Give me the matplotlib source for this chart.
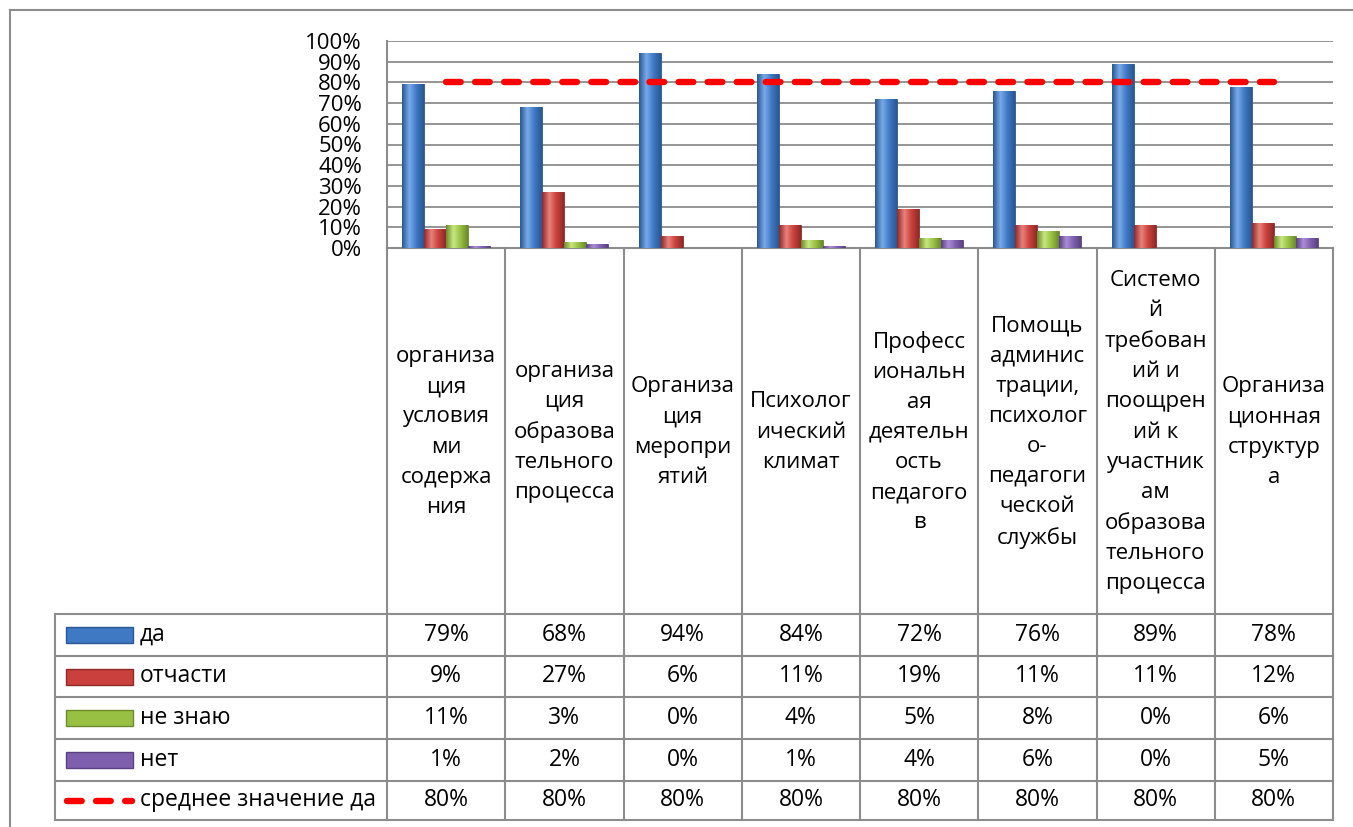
import numpy as np
import matplotlib.pyplot as plt
from matplotlib.colors import LinearSegmentedColormap
from matplotlib.patches import Rectangle
from matplotlib.transforms import blended_transform_factory
from matplotlib.ticker import PercentFormatter

plt.rcParams['font.family'] = ['Open Sans', 'DejaVu Sans']

# Data
categories = [
    "организа\nция\nусловия\nми\nсодержа\nния",
    "организа\nция\nобразова\nтельного\nпроцесса",
    "Организа\nция\nмеропри\nятий",
    "Психолог\nический\nклимат",
    "Професс\nиональн\nая\nдеятельн\nость\nпедагого\nв",
    "Помощь\nадминис\nтрации,\nпсихолог\nо-\nпедагоги\nческой\nслужбы",
    "Системо\nй\nтребован\nий и\nпоощрен\nий к\nучастник\nам\nобразова\nтельного\nпроцесса",
    "Организа\nционная\nструктур\nа",
]
da = [79, 68, 94, 84, 72, 76, 89, 78]
otchasti = [9, 27, 6, 11, 19, 11, 11, 12]
ne_znayu = [11, 3, 0, 4, 5, 8, 0, 6]
net = [1, 2, 0, 1, 4, 6, 0, 5]
avg_da = [80, 80, 80, 80, 80, 80, 80, 80]

series_names = ["да", "отчасти", "не знаю", "нет"]
series_values = [da, otchasti, ne_znayu, net]
avg_name = "среднее значение да"

# colours: base, light, dark
palette = [
    ("#3F78C3", "#78AAE8", "#2A5794"),
    ("#C9403C", "#E8807A", "#8E2A28"),
    ("#98C043", "#C8E680", "#6C8A2C"),
    ("#7E5FAE", "#AA8DD6", "#5A4280"),
]
grid_col = "#8C8C8C"

W, H = 1353, 827
fig = plt.figure(figsize=(W / 100, H / 100), dpi=100)

# chart area
ax_l, ax_r, ax_t, ax_b = 387, 1333, 41, 248
ax = fig.add_axes([ax_l / W, 1 - ax_b / H, (ax_r - ax_l) / W, (ax_b - ax_t) / H])

x = np.arange(len(categories))
bw = 0.186
offsets = (np.arange(4) - 1.5) * bw
grad = np.linspace(0, 1, 64).reshape(1, -1)

for vals, off, (base, light, dark) in zip(series_values, offsets, palette):
    bars = ax.bar(x + off, np.array(vals) / 100, width=bw, color=base,
                  edgecolor=dark, linewidth=0.6, zorder=3)
    cmap = LinearSegmentedColormap.from_list("g", [dark, light, base, dark])
    for p in bars.patches:
        if p.get_height() <= 0:
            continue
        im = ax.imshow(grad, cmap=cmap, aspect="auto", zorder=3.5,
                       extent=[p.get_x(), p.get_x() + p.get_width(), 0, p.get_height()])
        im.set_clip_path(p)

ax.plot(x, np.array(avg_da) / 100, color="#FF0000", lw=4.6,
        dashes=(2.3, 2.25), dash_capstyle="round", zorder=5)

ax.set_xlim(-0.5, len(categories) - 0.5)
ax.set_ylim(0, 1)
ax.set_yticks(np.arange(0, 1.01, 0.1))
ax.yaxis.set_major_formatter(PercentFormatter(1.0, decimals=0))
ax.set_xticks([])
ax.tick_params(axis="y", length=0, pad=18, labelsize=16)
ax.grid(axis="y", color=grid_col, lw=1.3, zorder=0)
for s in ["top", "right"]:
    ax.spines[s].set_visible(False)
for s in ["left", "bottom"]:
    ax.spines[s].set_color(grid_col)
    ax.spines[s].set_linewidth(1.5)

# overlay in pixel coords for the data table
ov = fig.add_axes([0, 0, 1, 1], facecolor="none")
ov.set_xlim(0, W)
ov.set_ylim(H, 0)
ov.axis("off")
tr = blended_transform_factory(ax.transData, ov.transData)

# outer frame
ov.plot([10, W], [10, 10], color="#8C8C8C", lw=1.5)
ov.plot([10, 10], [10, H], color="#8C8C8C", lw=1.5)

row_edges = [614, 656, 697, 739, 781, 820]
leg_l = 55
# column lines
for i in range(len(categories) + 1):
    ov.plot([i - 0.5, i - 0.5], [ax_b, row_edges[-1]], color=grid_col, lw=1.5,
            transform=tr, clip_on=False)
ov.plot([leg_l, leg_l], [row_edges[0], row_edges[-1]], color=grid_col, lw=1.5)
for y in row_edges:
    ov.plot([leg_l, ax_r], [y, y], color=grid_col, lw=1.5)

# category labels
for i, lab in enumerate(categories):
    ov.text(i, (ax_b + row_edges[0]) / 2 + 1, lab, transform=tr, ha="center",
            va="center", fontsize=16, linespacing=1.57, multialignment="center")

# data rows
all_rows = series_values + [avg_da]
row_names = series_names + [avg_name]
for r, (name, vals) in enumerate(zip(row_names, all_rows)):
    yc = (row_edges[r] + row_edges[r + 1]) / 2
    for i, v in enumerate(vals):
        ov.text(i, yc, f"{v}%", transform=tr, ha="center", va="center", fontsize=16.5)
    if r < 4:
        base, light, dark = palette[r]
        ov.add_patch(Rectangle((66, yc - 8), 67, 16, facecolor=base,
                               edgecolor=dark, lw=1))
    else:
        ov.plot([67, 132], [yc, yc], color="#FF0000", lw=4.6,
                dashes=(2.3, 2.25), dash_capstyle="round")
    ov.text(140, yc, name, ha="left", va="center", fontsize=16.5)

fig.savefig("out.png", dpi=100)
